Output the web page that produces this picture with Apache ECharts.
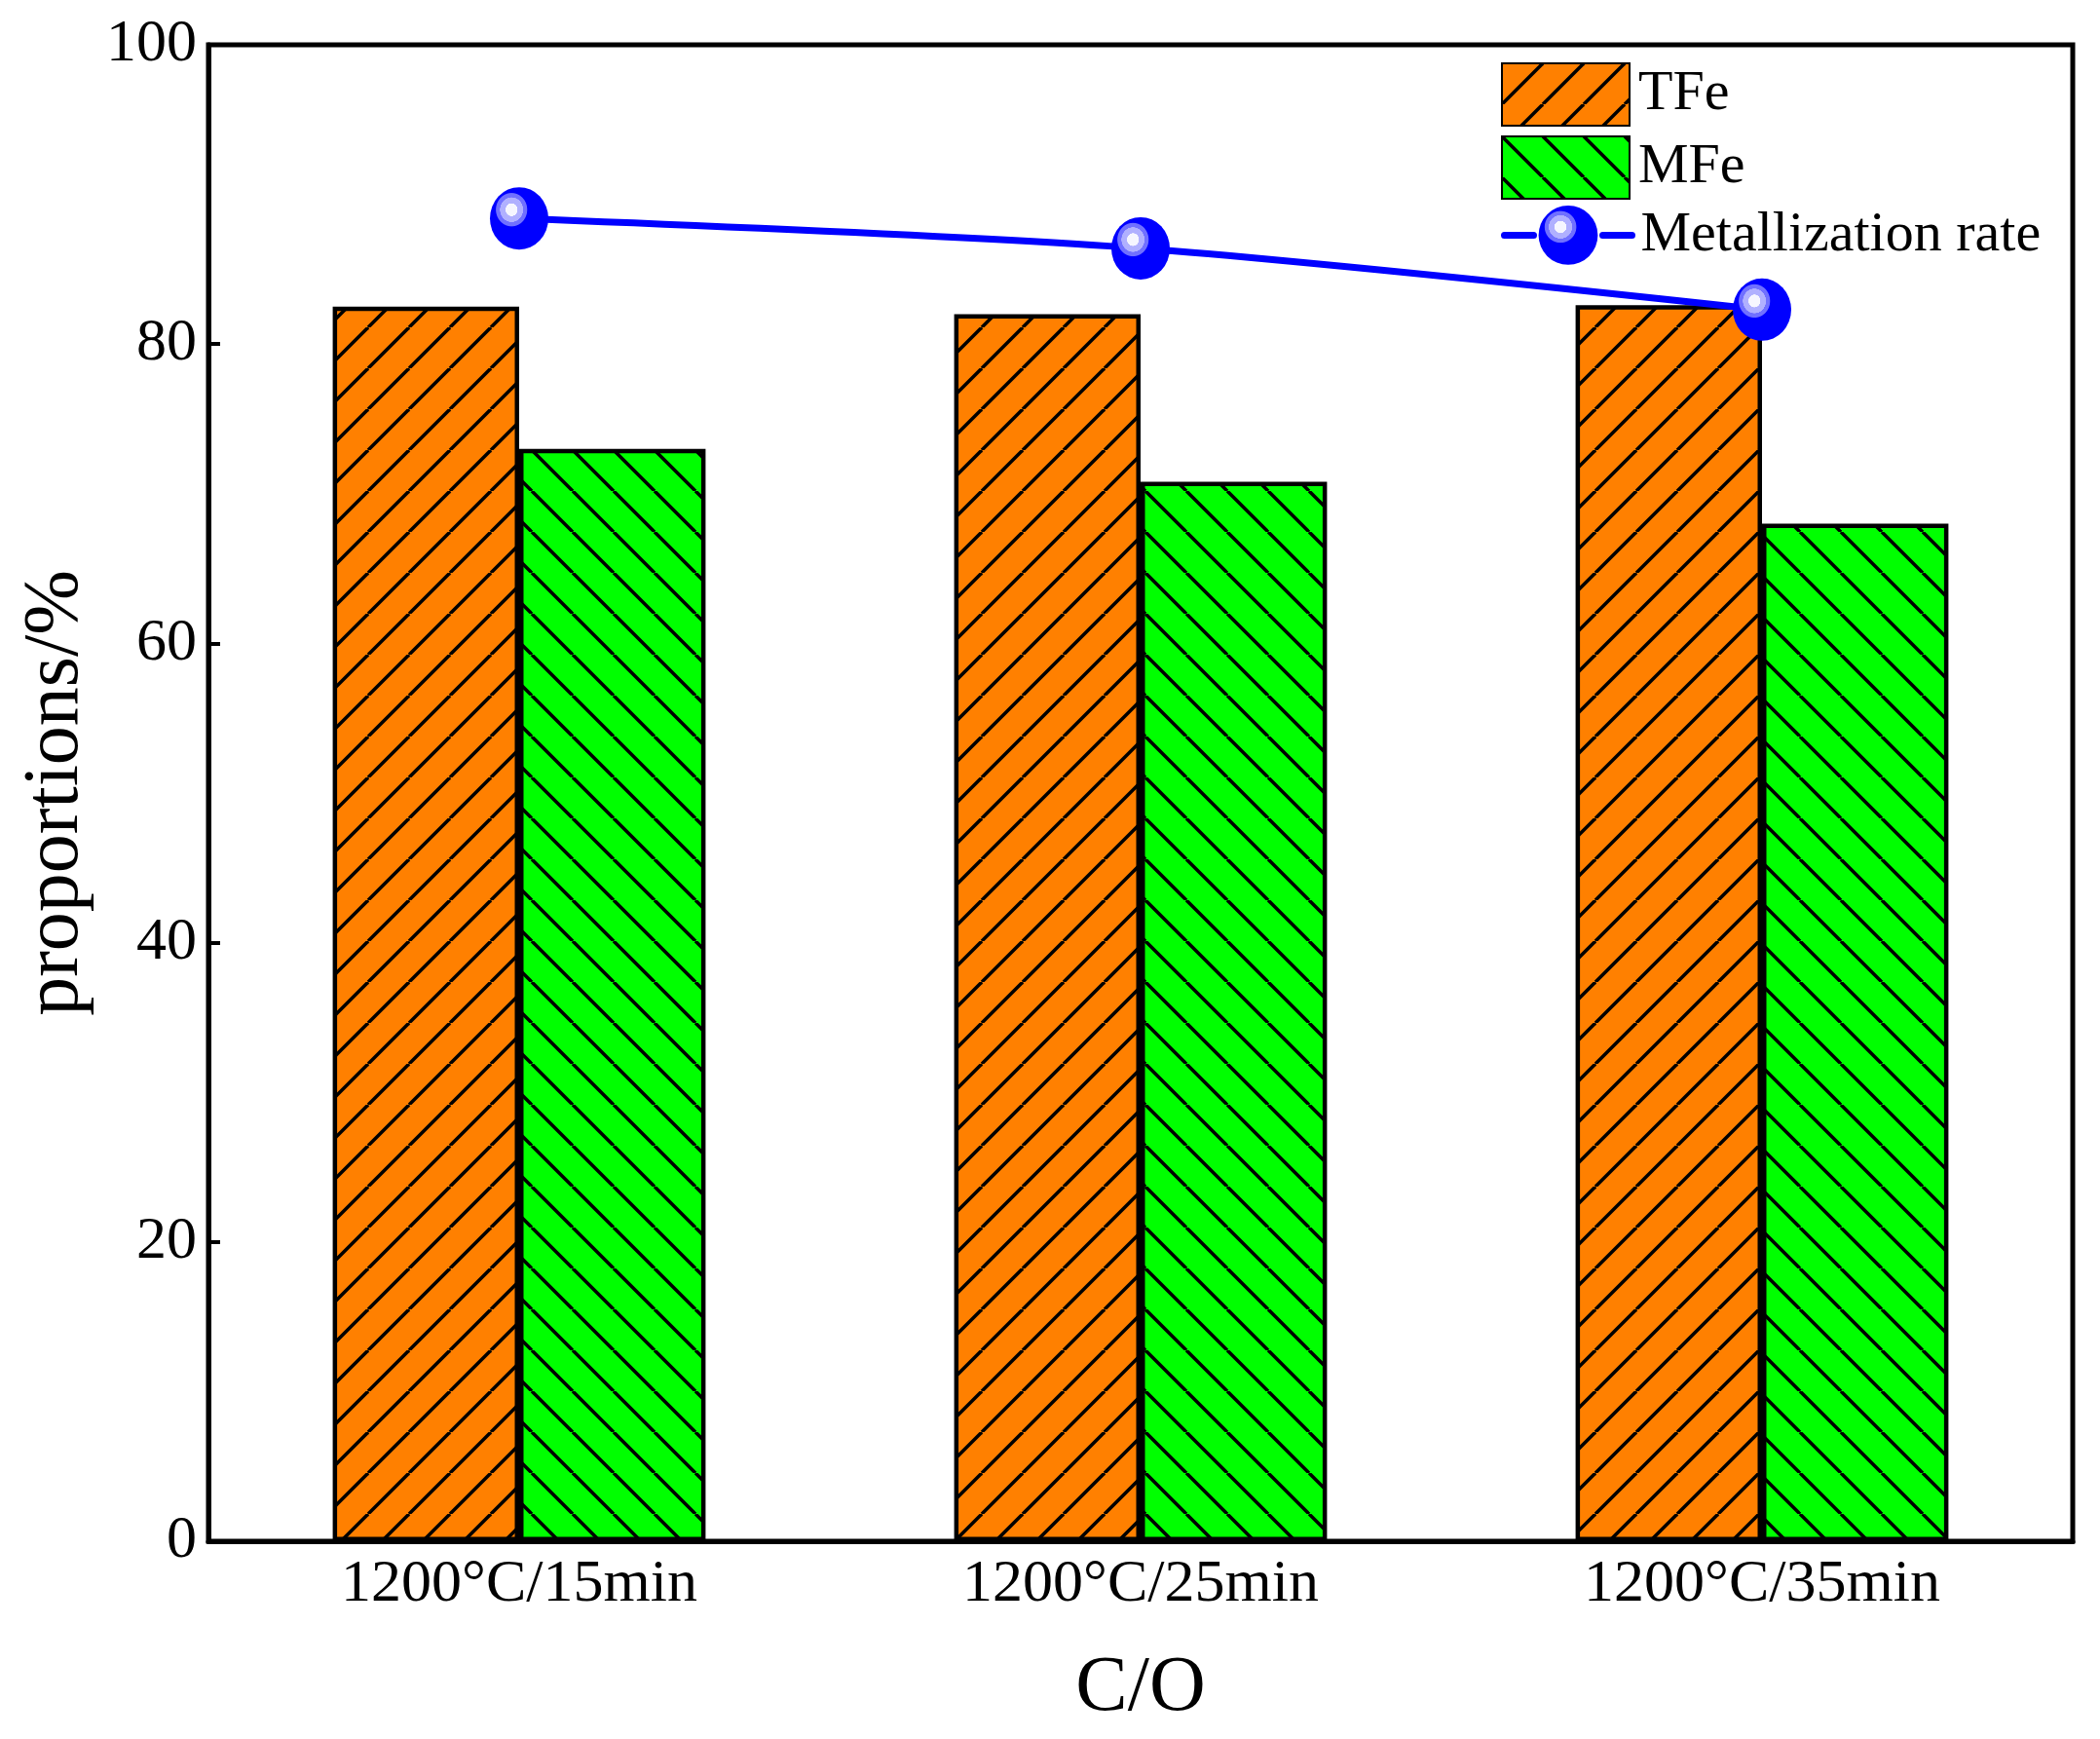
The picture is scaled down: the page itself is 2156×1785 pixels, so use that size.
<!DOCTYPE html>
<html><head><meta charset="utf-8">
<script src="https://cdn.jsdelivr.net/npm/echarts@6/dist/echarts.min.js"></script>
<style>html,body{margin:0;padding:0;background:#fff}#c{width:2156px;height:1785px}</style>
</head><body><div id="c"></div>
<script>
const categories = ['1200°C/15min', '1200°C/25min', '1200°C/35min'];
const tfe = [82.5, 82.0, 82.6];
const mfe = [73.0, 70.8, 68.0];
const metallization = [88.4, 86.4, 82.3];
const seriesNames = ['TFe', 'MFe', 'Metallization rate'];

const FONT = '"Liberation Serif", "Times New Roman", serif';

function hatch(bg, dir) {
  const S = 42;
  const c = document.createElement('canvas');
  c.width = S; c.height = S;
  const g = c.getContext('2d');
  g.fillStyle = bg; g.fillRect(0, 0, S, S);
  g.strokeStyle = '#000'; g.lineWidth = 3.5;
  for (let k = -1; k <= 1; k++) {
    g.beginPath();
    if (dir > 0) { g.moveTo(k * S, S); g.lineTo(k * S + S, 0); }
    else { g.moveTo(k * S, 0); g.lineTo(k * S + S, S); }
    g.stroke();
  }
  return { image: c, repeat: 'repeat' };
}

const sphere = {
  type: 'radial', x: 0.37, y: 0.36, r: 0.5,
  colorStops: [
    { offset: 0, color: '#f6f6ff' }, { offset: 0.2, color: '#f6f6ff' },
    { offset: 0.21, color: '#b0b0ff' }, { offset: 0.39, color: '#b0b0ff' },
    { offset: 0.4, color: '#7070ff' }, { offset: 0.52, color: '#7070ff' },
    { offset: 0.55, color: '#0000ff' }, { offset: 1, color: '#0000ff' }
  ]
};

const legendText = { fontFamily: FONT, fontSize: 58, color: '#000', padding: [0, 0, 0, 4] };

const chart = echarts.init(document.getElementById('c'), null, { renderer: 'canvas' });
chart.setOption({
  animation: false,
  backgroundColor: '#fff',
  grid: { left: 214, top: 46, right: 28, bottom: 203, show: true, borderColor: '#000', borderWidth: 5, backgroundColor: 'transparent' },
  legend: [
    {
      orient: 'vertical', left: 1541, top: 64, itemWidth: 131, itemHeight: 64, itemGap: 9, padding: 0,
      data: [
        { name: seriesNames[0], icon: 'rect' },
        { name: seriesNames[1], icon: 'rect' }
      ],
      textStyle: legendText
    },
    {
      orient: 'vertical', left: 1541, top: 211, itemWidth: 131, itemHeight: 76, padding: 0,
      data: [
        { name: seriesNames[2], lineStyle: { width: 7, type: [30, 71], cap: 'round', color: '#0000ff' } }
      ],
      textStyle: legendText
    }
  ],
  xAxis: {
    type: 'category', data: categories,
    axisLine: { show: true, lineStyle: { color: '#000', width: 5 } },
    axisTick: { show: false },
    axisLabel: { fontFamily: FONT, fontSize: 62, color: '#000', margin: 14 },
    name: 'C/O', nameLocation: 'middle', nameGap: 112,
    nameTextStyle: { fontFamily: FONT, fontSize: 80, color: '#000' }
  },
  yAxis: {
    type: 'value', min: 0, max: 100, interval: 20,
    axisLine: { show: true, lineStyle: { color: '#000', width: 5 } },
    axisTick: { show: true, inside: true, length: 12, lineStyle: { color: '#000', width: 4 } },
    splitLine: { show: false },
    axisLabel: { fontFamily: FONT, fontSize: 62, color: '#000', margin: 12 },
    name: 'proportions/%', nameLocation: 'middle', nameGap: 112,
    nameTextStyle: { fontFamily: FONT, fontSize: 80, color: '#000' }
  },
  series: [
    {
      name: seriesNames[0], type: 'bar', data: tfe, barWidth: '30%', barGap: '0%',
      itemStyle: { color: hatch('#ff8000', 1), borderColor: '#000', borderWidth: 4.5 },
      emphasis: { disabled: true }
    },
    {
      name: seriesNames[1], type: 'bar', data: mfe, barWidth: '30%', barGap: '0%',
      itemStyle: { color: hatch('#00ff00', -1), borderColor: '#000', borderWidth: 4.5 },
      emphasis: { disabled: true }
    },
    {
      name: seriesNames[2], type: 'line', data: metallization, smooth: 0.3,
      symbol: 'circle', symbolSize: [60, 64],
      lineStyle: { color: '#0000ff', width: 7 },
      itemStyle: { color: sphere, borderWidth: 0 },
      emphasis: { disabled: true }, z: 5
    }
  ]
});
</script></body></html>
